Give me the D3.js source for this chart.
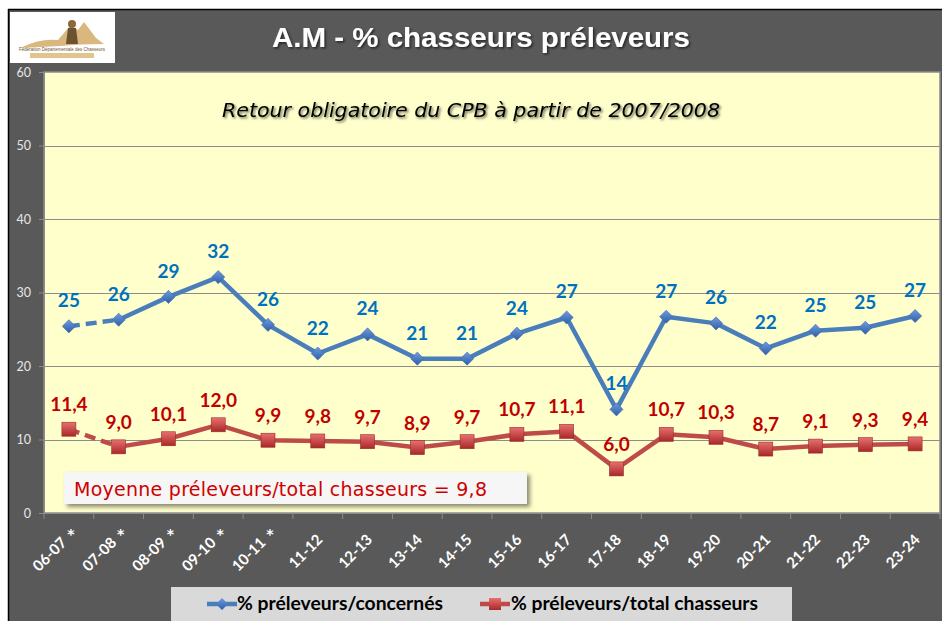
<!DOCTYPE html>
<html><head><meta charset="utf-8">
<script src="https://cdn.jsdelivr.net/npm/d3@7"></script>
<style>body{margin:0;background:#fff}svg{display:block}</style>
</head><body>
<script>
const categories = ["06-07","07-08","08-09","09-10","10-11","11-12","12-13","13-14","14-15","15-16","16-17","17-18","18-19","19-20","20-21","21-22","22-23","23-24"];
const starred = [true,true,true,true,true,false,false,false,false,false,false,false,false,false,false,false,false,false];
const concernes = [25.4,26.3,29.4,32.1,25.6,21.7,24.3,21.0,21.0,24.4,26.6,14.1,26.7,25.8,22.4,24.8,25.2,26.8];
const concernesLabels = ["25","26","29","32","26","22","24","21","21","24","27","14","27","26","22","25","25","27"];
const total = [11.4,9.0,10.1,12.0,9.9,9.8,9.7,8.9,9.7,10.7,11.1,6.0,10.7,10.3,8.7,9.1,9.3,9.4];
const yTicks = [0,10,20,30,40,50,60];
const seriesNames = ["% préleveurs/concernés","% préleveurs/total chasseurs"];
const title = "A.M - % chasseurs préleveurs";
const subtitle = "Retour obligatoire du CPB à partir de 2007/2008";
const moyenne = "Moyenne préleveurs/total chasseurs = 9,8";

const W=942,H=621;
const svg=d3.select("body").append("svg").attr("width",W).attr("height",H);
const defs=svg.append("defs");
const sh=defs.append("filter").attr("id","tsh").attr("x","-10%").attr("y","-30%").attr("width","120%").attr("height","160%");
sh.append("feDropShadow").attr("dx",1.5).attr("dy",1.5).attr("stdDeviation",1.2).attr("flood-color","#000").attr("flood-opacity",0.6);
const bsh=defs.append("filter").attr("id","bsh").attr("x","-5%").attr("y","-20%").attr("width","115%").attr("height","160%");
bsh.append("feDropShadow").attr("dx",3).attr("dy",3).attr("stdDeviation",2).attr("flood-color","#000").attr("flood-opacity",0.45);
const gb=defs.append("linearGradient").attr("id","gb").attr("x1",0).attr("y1",0).attr("x2",0).attr("y2",1);
gb.append("stop").attr("offset","0").attr("stop-color","#6f9be0");gb.append("stop").attr("offset","1").attr("stop-color","#2e5fa8");
const gr=defs.append("linearGradient").attr("id","gr").attr("x1",0).attr("y1",0).attr("x2",0).attr("y2",1);
gr.append("stop").attr("offset","0").attr("stop-color","#e87070");gr.append("stop").attr("offset","1").attr("stop-color","#a82828");

// chart background
svg.append("rect").attr("x",8).attr("y",9).attr("width",W-8).attr("height",H-9).attr("fill","#595959");
svg.append("line").attr("x1",8).attr("x2",W).attr("y1",9.5).attr("y2",9.5).attr("stroke","#000").attr("stroke-width",1.5);
svg.append("line").attr("x1",8.5).attr("x2",8.5).attr("y1",9).attr("y2",H).attr("stroke","#000").attr("stroke-width",1.5);

// logo
const lg=svg.append("g");
lg.append("rect").attr("x",10).attr("y",12).attr("width",105).attr("height",51).attr("fill","#fff");
lg.append("path").attr("d","M20,48 Q40,38 58,40 L70,26 L78,30 L84,22 L96,38 L104,44 Q80,44 60,46 Z").attr("fill","#d9b77e");
lg.append("circle").attr("cx",72).attr("cy",24).attr("r",4).attr("fill","#8a6a3a");
lg.append("path").attr("d","M68,28 L76,28 L78,44 L66,44 Z").attr("fill","#6b5230");
lg.append("text").attr("x",62).attr("y",51).attr("text-anchor","middle").attr("font-family","Arial").attr("font-size",4.5).attr("fill","#6b5230").text("Fédération Départementale des Chasseurs");
lg.append("rect").attr("x",30).attr("y",53).attr("width",64).attr("height",5).attr("fill","#e2c48f");

// title
svg.append("text").attr("x",481).attr("y",47).attr("text-anchor","middle").attr("font-family","Liberation Sans, Arial").attr("font-weight","bold").attr("font-size",28).attr("textLength",418).attr("lengthAdjust","spacingAndGlyphs").attr("fill","#fff").attr("filter","url(#tsh)").text(title);

const m={l:44,r:940,t:72,b:513};
const x=d3.scaleBand().domain(categories).range([m.l,m.r]);
const y=d3.scaleLinear().domain([0,60]).range([m.b,m.t]);
const cx=d=>x(d)+x.bandwidth()/2;

svg.append("rect").attr("x",m.l).attr("y",m.t).attr("width",m.r-m.l).attr("height",m.b-m.t).attr("fill","#ffffcc").attr("stroke","#8c8c8c").attr("stroke-width",1.5);
// grid
svg.append("g").selectAll("line").data(yTicks.filter(v=>v>0&&v<60)).join("line")
 .attr("x1",m.l).attr("x2",m.r).attr("y1",d=>Math.round(y(d))+0.5).attr("y2",d=>Math.round(y(d))+0.5).attr("stroke","#8c8c8c").attr("stroke-width",1);

// y axis
const ya=svg.append("g").attr("transform",`translate(${m.l},0)`).call(d3.axisLeft(y).tickValues(yTicks).tickSize(5).tickPadding(8));
ya.select(".domain").attr("stroke","#8c8c8c");
ya.selectAll(".tick line").attr("stroke","#8c8c8c");
ya.selectAll("text").attr("fill","#e6e6e6").attr("font-family","Lato, Calibri, sans-serif").attr("font-size",12.5);

// x axis
const xa=svg.append("g").attr("transform",`translate(0,${m.b})`).call(d3.axisBottom(x).tickSize(0).tickFormat(""));
xa.select(".domain").attr("stroke","#8c8c8c");
svg.append("g").selectAll("line").data(d3.range(categories.length+1)).join("line")
 .attr("x1",i=>m.l+i*x.bandwidth()).attr("x2",i=>m.l+i*x.bandwidth()).attr("y1",m.b).attr("y2",m.b+6).attr("stroke","#8c8c8c");
const xl=svg.append("g").selectAll("g").data(categories).join("g")
 .attr("transform",(d,i)=>starred[i]?`translate(${cx(d)-5},${m.b+27})`:`translate(${cx(d)+2},${m.b+24})`);
xl.append("text").attr("transform","rotate(-45)").attr("text-anchor","end").attr("dy","0.35em").attr("font-family","Lato, Calibri, sans-serif").attr("font-weight","bold").attr("font-size",15).attr("fill","#fff").text(d=>d);
xl.filter((d,i)=>starred[i]).append("text").attr("x",7).attr("y",-1).attr("text-anchor","middle").attr("font-family","DejaVu Sans, sans-serif").attr("font-weight","bold").attr("font-size",14).attr("fill","#fff").text("*");

// lines
function drawSeries(vals,color){
  const pts=vals.map((v,i)=>[cx(categories[i]),y(v)]);
  svg.append("path").attr("d",d3.line()(pts.slice(0,2))).attr("fill","none").attr("stroke",color).attr("stroke-width",4.5).attr("stroke-dasharray","11,6");
  svg.append("path").attr("d",d3.line()(pts.slice(1))).attr("fill","none").attr("stroke",color).attr("stroke-width",4.5).attr("stroke-linejoin","round");
  return pts;
}
const bp=drawSeries(concernes,"#4a7ebb");
const rp=drawSeries(total,"#be4b48");
svg.append("g").selectAll("path").data(bp).join("path")
 .attr("d",d3.symbol(d3.symbolDiamond2,110)).attr("transform",d=>`translate(${d[0]},${d[1]})`)
 .attr("fill","url(#gb)").attr("stroke","#3a6aa8").attr("stroke-width",0.6);
svg.append("g").selectAll("rect").data(rp).join("rect")
 .attr("x",d=>d[0]-7).attr("y",d=>d[1]-7).attr("width",14).attr("height",14)
 .attr("fill","url(#gr)").attr("stroke","#9a2a2a").attr("stroke-width",0.6);

// labels
svg.append("g").selectAll("text").data(bp).join("text")
 .attr("x",d=>d[0]).attr("y",d=>d[1]-19).attr("text-anchor","middle")
 .attr("font-family","Lato, Calibri, sans-serif").attr("font-weight","bold").attr("font-size",19).attr("fill","#0070c0")
 .text((d,i)=>concernesLabels[i]);
svg.append("g").selectAll("text").data(rp).join("text")
 .attr("x",d=>d[0]).attr("y",d=>d[1]-18).attr("text-anchor","middle")
 .attr("font-family","Lato, Calibri, sans-serif").attr("font-weight","bold").attr("font-size",19).attr("fill","#c00000")
 .text((d,i)=>d3.format(".1f")(total[i]).replace(".",","));

// subtitle
svg.append("text").attr("x",471).attr("y",117).attr("text-anchor","middle").attr("font-family","Comic Sans MS, DejaVu Sans, sans-serif").attr("font-style","italic").attr("font-size",19).attr("textLength",498).attr("lengthAdjust","spacingAndGlyphs").attr("fill","#000").attr("filter","url(#tsh)").text(subtitle);

// moyenne box
svg.append("rect").attr("x",64).attr("y",472).attr("width",463).attr("height",32).attr("fill","#f6f6f6").attr("filter","url(#bsh)");
svg.append("text").attr("x",74).attr("y",496).attr("font-family","Comic Sans MS, DejaVu Sans, sans-serif").attr("font-size",19).attr("fill","#d00000").attr("textLength",413).text(moyenne);

// legend
svg.append("rect").attr("x",171).attr("y",587).attr("width",621).attr("height",34).attr("fill","#d9d9d9");
const l1=svg.append("g").attr("transform","translate(207,604)");
l1.append("line").attr("x1",0).attr("x2",30).attr("stroke","#4a7ebb").attr("stroke-width",4.5);
l1.append("path").attr("d",d3.symbol(d3.symbolDiamond2,90)).attr("transform","translate(15,0)").attr("fill","url(#gb)");
l1.append("text").attr("x",30).attr("dy","0.35em").attr("font-family","Lato, Calibri, sans-serif").attr("font-weight","bold").attr("font-size",18).attr("textLength",206).attr("lengthAdjust","spacingAndGlyphs").attr("fill","#000").text(seriesNames[0]);
const l2=svg.append("g").attr("transform","translate(480,604)");
l2.append("line").attr("x1",0).attr("x2",30).attr("stroke","#be4b48").attr("stroke-width",4.5);
l2.append("rect").attr("x",9).attr("y",-6).attr("width",12).attr("height",12).attr("fill","url(#gr)");
l2.append("text").attr("x",31).attr("dy","0.35em").attr("font-family","Lato, Calibri, sans-serif").attr("font-weight","bold").attr("font-size",18).attr("textLength",247).attr("lengthAdjust","spacingAndGlyphs").attr("fill","#000").text(seriesNames[1]);
</script>
</body></html>
